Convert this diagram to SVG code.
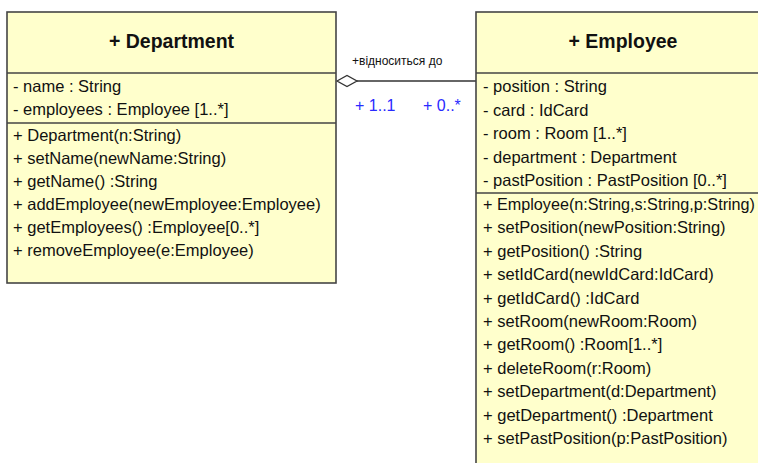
<svg xmlns="http://www.w3.org/2000/svg" width="758" height="463" viewBox="0 0 758 463">
<style>
.box{fill:#ffffcc;stroke:#454545;stroke-width:1.6}
.div{stroke:#454545;stroke-width:1.6}
.t{font-family:"Liberation Sans",Arial,sans-serif;font-size:16.5px;fill:#111}
.h{font-family:"Liberation Sans",Arial,sans-serif;font-size:19.5px;font-weight:bold;fill:#111;text-anchor:middle}
.lbl{font-family:"Liberation Sans",Arial,sans-serif;font-size:12px;fill:#111}
.m{font-family:"Liberation Sans",Arial,sans-serif;font-size:16px;fill:#2a2aff}
</style>
<rect width="758" height="463" fill="#ffffff"/>
<g id="connectors">
<line x1="357" y1="81" x2="476" y2="81" stroke="#333" stroke-width="1.5"/>
<polygon points="337,81 347,75.5 357,81 347,86.5" fill="#ffffff" stroke="#333" stroke-width="1.3"/>
<text class="lbl" x="352" y="65">+відноситься до</text>
<text class="m" x="355" y="111">+ 1..1</text>
<text class="m" x="423" y="111">+ 0..*</text>
</g>
<g id="department">
<rect class="box" x="7" y="12" width="329" height="271"/>
<line class="div" x1="7" y1="73" x2="336" y2="73"/>
<line class="div" x1="7" y1="123" x2="336" y2="123"/>
<text class="h" x="171.5" y="48">+ Department</text>
<text class="t" x="13" y="92">- name : String</text>
<text class="t" x="13" y="115">- employees : Employee [1..*]</text>
<text class="t" x="13" y="141">+ Department(n:String)</text>
<text class="t" x="13" y="164">+ setName(newName:String)</text>
<text class="t" x="13" y="187">+ getName() :String</text>
<text class="t" x="13" y="210">+ addEmployee(newEmployee:Employee)</text>
<text class="t" x="13" y="233">+ getEmployees() :Employee[0..*]</text>
<text class="t" x="13" y="256">+ removeEmployee(e:Employee)</text>
</g>
<g id="employee">
<rect class="box" x="476" y="12" width="300" height="470"/>
<line class="div" x1="476" y1="73" x2="776" y2="73"/>
<line class="div" x1="476" y1="193" x2="776" y2="193"/>
<text class="h" x="623" y="48">+ Employee</text>
<text class="t" x="483" y="92">- position : String</text>
<text class="t" x="483" y="115.5">- card : IdCard</text>
<text class="t" x="483" y="139">- room : Room [1..*]</text>
<text class="t" x="483" y="162.5">- department : Department</text>
<text class="t" x="483" y="186">- pastPosition : PastPosition [0..*]</text>
<text class="t" x="483" y="210" textLength="272" lengthAdjust="spacingAndGlyphs">+ Employee(n:String,s:String,p:String)</text>
<text class="t" x="483" y="233.4">+ setPosition(newPosition:String)</text>
<text class="t" x="483" y="256.8">+ getPosition() :String</text>
<text class="t" x="483" y="280.2">+ setIdCard(newIdCard:IdCard)</text>
<text class="t" x="483" y="303.6">+ getIdCard() :IdCard</text>
<text class="t" x="483" y="327">+ setRoom(newRoom:Room)</text>
<text class="t" x="483" y="350.4">+ getRoom() :Room[1..*]</text>
<text class="t" x="483" y="373.8">+ deleteRoom(r:Room)</text>
<text class="t" x="483" y="397.2">+ setDepartment(d:Department)</text>
<text class="t" x="483" y="420.6">+ getDepartment() :Department</text>
<text class="t" x="483" y="444">+ setPastPosition(p:PastPosition)</text>
</g>
</svg>
